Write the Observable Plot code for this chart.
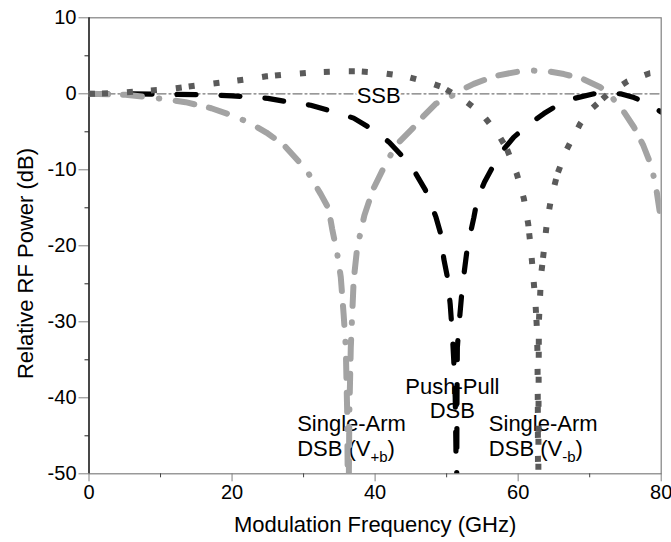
<!DOCTYPE html>
<html>
<head>
<meta charset="utf-8">
<script src="https://cdn.jsdelivr.net/npm/d3@7"></script>
<script src="https://cdn.jsdelivr.net/npm/@observablehq/plot@0.6"></script>
<style>
  html, body { margin: 0; padding: 0; background: #fff; }
  #chart svg { display: block; background: #fff; }
</style>
</head>
<body>
<div id="chart"></div>
<script>
// ---- Data ----
const ssbFreq = [0, 80];
const ssbDb = [0, 0];

const ppFreq = [0, 5, 10, 15, 20, 25, 28, 31, 34, 37, 40, 42, 44, 45.5, 47, 48.5, 49.2, 49.6, 50.1, 50.5, 50.8, 51.0, 51.2, 51.3, 51.38, 51.45, 51.5, 51.7, 52.2, 52.9, 53.8, 54.3, 55.3, 56.4, 57.8, 59.4, 61.5, 63.6, 65.5, 67.6, 70.6, 72.5, 74.3, 76.2, 78, 79, 80];
const ppDb = [0, 0, -0.05, -0.1, -0.27, -0.6, -1.1, -1.5, -2.3, -3.2, -4.9, -6.4, -8.4, -10.2, -12.6, -16.2, -18.5, -21.7, -24.1, -27.7, -31.6, -35.1, -39.9, -46.5, -60, -40, -33.4, -30.7, -25.4, -20.2, -16.3, -13.8, -11.6, -9.7, -7.5, -5.7, -4.0, -2.6, -1.5, -0.66, 0, 0.05, 0, -0.5, -1.2, -1.8, -2.4];

const vpFreq = [0, 5.1, 8.8, 13.5, 17.1, 20.5, 22.8, 24.8, 27.2, 29.6, 30.7, 32.4, 33.5, 34.0, 34.7, 35.2, 35.6, 35.9, 36.1, 36.25, 36.4, 36.6, 36.8, 37.0, 37.5, 38.5, 39.7, 41.7, 43.1, 45.4, 46.8, 48.5, 51.3, 52.4, 53.8, 55.5, 57.1, 60.3, 62.2, 64.1, 66.4, 69.0, 71.5, 72.9, 74.8, 76.2, 77.5, 78.5, 79.2, 79.9, 80];
const vpDb = [0, -0.13, -0.5, -1.1, -1.9, -3.0, -4.0, -5.1, -6.7, -9.2, -10.5, -13.2, -15.1, -17.8, -21, -24.1, -29, -33.3, -42, -60, -42, -33.4, -29, -24.6, -20.2, -16, -12.6, -8.8, -6.6, -4.4, -2.9, -1.3, 0, 0.66, 1.3, 1.9, 2.4, 2.97, 3.05, 2.97, 2.6, 1.97, 0.87, -0.22, -2.4, -4.4, -6.8, -9.2, -11.8, -16.2, -17];

const vmFreq = [0, 3.7, 7.2, 10.7, 12.7, 16, 19.5, 22.8, 24.8, 28.4, 31.8, 35.4, 37.3, 40.8, 44.2, 47.5, 49.4, 52.2, 54.9, 57.2, 58.4, 59.8, 60.8, 61.4, 61.8, 62.1, 62.4, 62.6, 62.7, 62.75, 62.8, 62.85, 62.9, 63.2, 63.6, 64.0, 64.6, 65.5, 66.8, 68.7, 70.0, 72.6, 75.3, 78.4, 80];
const vmDb = [0, 0.1, 0.35, 0.56, 0.8, 1.2, 1.6, 2.0, 2.3, 2.6, 2.85, 2.97, 2.97, 2.76, 2.3, 1.5, 0.87, -0.66, -2.6, -5.3, -7.2, -10.5, -13.8, -17.1, -20.6, -23.9, -27.2, -30.5, -34, -41, -60, -41, -30, -23.9, -20.6, -17.1, -13.8, -10.5, -7.3, -3.9, -2.2, 0, 1.65, 2.7, 2.9];

const xMajorTicks = [0, 20, 40, 60, 80];
const xMinorTicks = [10, 30, 50, 70];
const yMajorTicks = [-50, -40, -30, -20, -10, 0, 10];
const yMinorTicks = [-45, -35, -25, -15, -5, 5];

const xTitle = "Modulation Frequency (GHz)";
const yTitle = "Relative RF Power (dB)";

const ssbLabel = ["SSB"];
const ssbLabelFreq = [40.5];
const ssbLabelDb = [-0.22];

const annoText = ["Push-Pull\nDSB", "Single-Arm\nDSB (V+b)", "Single-Arm\nDSB (V-b)"];
const annoFreq = [50.8, 29.1, 55.9];
const annoDb = [-42.7, -47.6, -47.6];
const annoAnchor = ["middle", "start", "start"];

// ---- Tables ----
const zip = (fs, ds) => fs.map((f, i) => ({f, db: ds[i]}));
const ssb = zip(ssbFreq, ssbDb);
const pp = zip(ppFreq, ppDb);
const vp = zip(vpFreq, vpDb);
const vm = zip(vmFreq, vmDb);
const annos = annoText.map((t, i) => ({t, f: annoFreq[i], db: annoDb[i], a: annoAnchor[i]}));

const FONT = "'Liberation Sans', Arial, Helvetica, sans-serif";
const hyphen = d => String(d);

const chart = Plot.plot({
  width: 671,
  height: 542,
  marginLeft: 88.5,
  marginRight: 10.3,
  marginTop: 17.3,
  marginBottom: 68.7,
  style: {fontFamily: FONT, background: "#fff", color: "#000"},
  x: {domain: [0, 80], label: null},
  y: {domain: [-50, 10], label: null},
  marks: [
    Plot.frame({stroke: "#808080", strokeWidth: 1.2}),
    Plot.axisY({ticks: yMinorTicks, tickSize: 4, tickFormat: () => "", stroke: "#222", label: null}),
    Plot.axisY({ticks: yMajorTicks, tickSize: 10, tickPadding: 2.5, tickFormat: hyphen, stroke: "#808080", fontSize: 20, fill: "#000", label: null}),
    Plot.axisX({ticks: xMinorTicks, tickSize: 4, tickFormat: () => "", stroke: "#444", label: null}),
    Plot.axisX({ticks: xMajorTicks, tickSize: 8, tickPadding: 3, tickFormat: hyphen, stroke: "#808080", fontSize: 20, fill: "#000", label: null}),
    Plot.ruleX([0], {stroke: "#000", strokeWidth: 1.2}),
    Plot.line(ssb, {x: "f", y: "db", stroke: "#777", strokeWidth: 1.3, strokeDasharray: "9,3,2,3"}),
    Plot.text(ssbLabel, {x: ssbLabelFreq, y: ssbLabelDb, text: d => d, fontSize: 22, fill: "#000", stroke: "#fff", strokeWidth: 5, textAnchor: "middle", lineAnchor: "middle"}),
    ...annos.map(a => Plot.text([a], {x: "f", y: "db", text: "t", fontSize: 22, fill: "#000", textAnchor: a.a, lineAnchor: "bottom", lineHeight: 1.12})),
    Plot.line(pp, {x: "f", y: "db", stroke: "#000", strokeWidth: 5.2, strokeDasharray: "19,25", strokeLinecap: "round", clip: true}),
    Plot.line(vp, {x: "f", y: "db", stroke: "#a3a3a3", strokeWidth: 6, strokeDasharray: "19,15,19,17,0.5,16.5", strokeLinecap: "round", clip: true}),
    Plot.line(vm, {x: "f", y: "db", stroke: "#5a5a5a", strokeWidth: 6, strokeDasharray: "6,7,6,19,6,18,6,19", strokeLinecap: "butt", clip: true}),
    Plot.text([xTitle], {frameAnchor: "bottom", dy: 58, text: d => d, fontSize: 22, fill: "#000", textAnchor: "middle", lineAnchor: "bottom"}),
    Plot.text([yTitle], {frameAnchor: "left", dx: -63.5, dy: 17.7, rotate: -90, text: d => d, fontSize: 22, fill: "#000", textAnchor: "middle", lineAnchor: "middle"})
  ]
});

// subscripts for V+b / V-b
d3.select(chart).selectAll("text, tspan").each(function () {
  if (this.childElementCount) return;
  const m = (this.textContent || "").match(/^(.*\(V)([+-]b)(\))$/);
  if (!m) return;
  const el = d3.select(this);
  el.text(m[1]);
  el.append("tspan").attr("font-size", 15).attr("dy", 6).text(m[2]);
  el.append("tspan").attr("font-size", 22).attr("dy", -6).text(m[3]);
});

document.getElementById("chart").appendChild(chart);
</script>
</body>
</html>
